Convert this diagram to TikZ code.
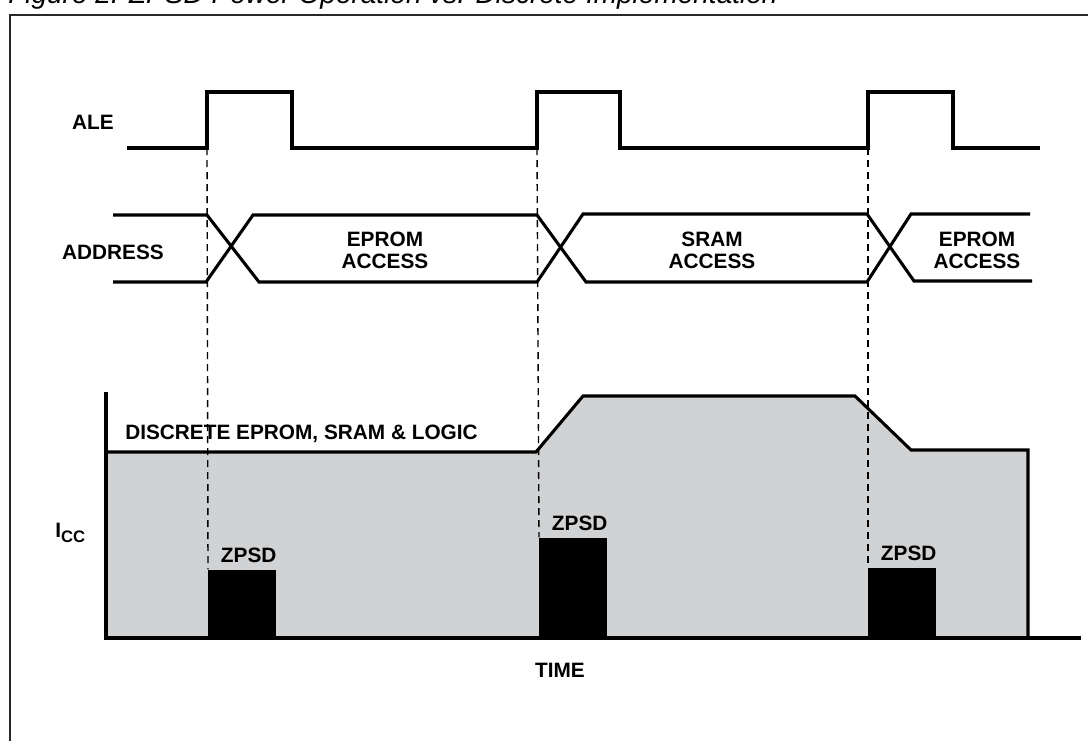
\documentclass[tikz,border=0pt]{standalone}
\usepackage{fontspec}
\setmainfont{Liberation Sans}
\usepackage{tikz}
\usetikzlibrary{positioning}
\definecolor{iccgray}{RGB}{209, 210, 212}
\definecolor{framegray}{RGB}{40, 40, 40}

\begin{document}
\begin{tikzpicture}[x=0.75pt, y=-0.75pt,
                sig/.style={line width=2.3pt, line join=miter},
                guide/.style={dash pattern=on 5.25pt off 3.75pt, line width=1.05pt},
                lbl/.style={font=\bfseries\fontsize{15.6}{16.5}\selectfont,
                            align=center, inner sep=0pt},
                zbox/.style={fill=black, inner sep=0pt, anchor=south west,
                             minimum width=51pt}]
                \useasboundingbox (0,0) rectangle (1088,740);
                \clip (0,0) rectangle (1088,740);

                % title and frame
                \node[font=\itshape\fontsize{21}{24}\selectfont, anchor=base west,
                      inner sep=0pt] (title) at (8,3)
                      {Figure 2. ZPSD Power Operation vs. Discrete Implementation};
                \draw[framegray, line width=1.1pt] (10,15) rectangle (1110,770);

                % ALE
                \node[lbl] (ale) at (93,122) {ALE};
                \coordinate (a1) at (207,148);
                \coordinate (a2) at (537,148);
                \coordinate (a3) at (868,148);
                \draw[sig] (127,148) -- (a1) -- (207,92) -- (292,92) -- (292,148)
                      -- (a2) -- (537,92) -- (620,92) -- (620,148)
                      -- (a3) -- (868,92) -- (953,92) -- (953,148) -- (1040,148);

                % ADDRESS
                \node[lbl] (addr) at (113,252) {ADDRESS};
                \draw[sig] (113,215) -- (207,215) -- (259,282) -- (537,282)
                      -- (583,214) -- (867,214) -- (914,281) -- (1032,281);
                \draw[sig] (113,282) -- (206,282) -- (253,215) -- (537,215)
                      -- (586,282) -- (867,282) -- (911,214) -- (1030,214);
                \node[lbl] (acc1) at (385,250) {EPROM\\ACCESS};
                \node[lbl] (acc2) at (712,250) {SRAM\\ACCESS};
                \node[lbl] (acc3) at (977,250) {EPROM\\ACCESS};

                % I_CC
                \fill[iccgray] (106,638) -- (106,452) -- (536,452) -- (583,396)
                      -- (855,396) -- (911,450) -- (1028,450) -- (1028,638) -- cycle;
                \draw[sig] (106,452) -- (536,452) -- (583,396) -- (855,396)
                      -- (911,450) -- (1028,450) -- (1028,638);
                \node[lbl, anchor=west] (disc) at (125,434)
                      {DISCRETE EPROM, SRAM \& LOGIC};

                \node[zbox, minimum height=51pt] (zb1) at (208,638) {};
                \node[zbox, minimum height=75pt] (zb2) at (539,638) {};
                \node[zbox, minimum height=52.5pt] (zb3) at (868,638) {};
                \foreach \i in {1,2,3}
                    \node[lbl, above right=5.25pt and 9.5pt of zb\i.north west]
                          (zl\i) {ZPSD};

                \draw[guide] (a1) -- (zb1.north west);
                \draw[guide] (a2) -- (zb2.north west);
                \draw[guide] (a3) -- (zb3.north west);

                \draw[line width=3pt] (106,392) -- (106,638) -- (1081,638);
                \node[lbl, anchor=base west] (icc) at (55,537)
                      {I\raisebox{-3.75pt}{\fontsize{12.5}{13}\selectfont CC}};
                \node[lbl] (time) at (560,670) {TIME};
            \end{tikzpicture}
\end{document}
